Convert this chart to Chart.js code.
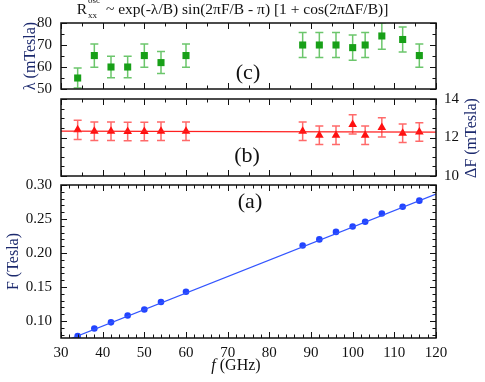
<!DOCTYPE html>
<html>
<head>
<meta charset="utf-8">
<script src="https://cdn.jsdelivr.net/npm/chart.js@4.4.0/dist/chart.umd.min.js"></script>
<style>
  html, body { margin: 0; padding: 0; background: #fff; }
  #wrap { position: relative; width: 485px; height: 382px; overflow: hidden; font-family: "Liberation Serif", "Times New Roman", Times, serif; }
  #wrap canvas { position: absolute; left: 0; top: 0; }
  #title { position: absolute; left: -10px; top: 0; width: 485px; text-align: center; font-size: 15.5px; line-height: 18px; color: #111; white-space: nowrap; }
  .ss { display: inline-block; position: relative; width: 15px; height: 10px; }
  .ss .sp { position: absolute; left: 1px; top: -8px; font-size: 9px; line-height: 9px; }
  .ss .sb { position: absolute; left: 1px; top: 7px; font-size: 9px; line-height: 9px; }
  #warm { position: absolute; left: -999px; top: 0; font-family: "Liberation Serif", serif; }
</style>
</head>
<body>
<div id="wrap">
  <canvas id="panel-c" width="485" height="382"></canvas>
  <canvas id="panel-b" width="485" height="382"></canvas>
  <canvas id="panel-a" width="485" height="382"></canvas>
  <div id="title">R<span class="ss"><span class="sp">osc</span><span class="sb">xx</span></span> ~ exp(-λ/B) sin(2πF/B - π) [1 + cos(2πΔF/B)]</div>
</div>
<span id="warm">0.30 <i>f</i></span>
<script>
// microwave frequencies (GHz)
const freq = [34, 38, 42, 46, 50, 54, 60, 88, 92, 96, 100, 103, 107, 112, 116];

// (c) damping parameter lambda (mTesla)
const lambda = [55, 65.2, 60, 60, 65.2, 62, 65.2, 70, 70, 70, 68.8, 70, 74.1, 72.5, 65.2];
const lambdaErr = [4.6, 5.3, 4.9, 4.9, 5.3, 5, 5.3, 5.7, 5.7, 5.7, 5.7, 5.7, 6, 5.7, 5.3];

// (b) beat splitting deltaF (mTesla)
const deltaF = [12.4, 12.33, 12.33, 12.31, 12.31, 12.33, 12.33, 12.33, 12.12, 12.12, 12.68, 12.12, 12.52, 12.22, 12.28];
const deltaFErr = [0.5, 0.48, 0.48, 0.48, 0.48, 0.48, 0.48, 0.48, 0.48, 0.48, 0.5, 0.48, 0.5, 0.48, 0.48];
const deltaFFitX = [30, 120];
const deltaFFit = [12.33, 12.28];

// (a) oscillation frequency F (Tesla)
const fieldF = [0.078, 0.089, 0.098, 0.108, 0.117, 0.128, 0.143, 0.211, 0.220, 0.231, 0.239, 0.246, 0.258, 0.268, 0.277];
const fieldFitX = [30, 120];
const fieldFit = [0.0683, 0.2867];

const SERIF = '"Liberation Serif", "Times New Roman", Times, serif';
const NAVY = '#1c2a6e';

const pts = (xs, ys) => xs.map((x, i) => ({ x: x, y: ys[i] }));

// vertical error bars with caps, drawn through the chart scales
const errorBars = {
    id: 'errorBars',
    beforeDatasetsDraw(chart) {
        const { ctx, chartArea: a } = chart;
        ctx.save();
        ctx.beginPath();
        ctx.rect(a.left, a.top, a.right - a.left, a.bottom - a.top);
        ctx.clip();
        chart.data.datasets.forEach((ds) => {
            if (!ds.errors) return;
            const xs = chart.scales[ds.xAxisID || 'x'];
            const ys = chart.scales[ds.yAxisID || 'y'];
            ctx.strokeStyle = ds.errorColor;
            ctx.lineWidth = 1.5;
            ds.data.forEach((p, i) => {
                const px = xs.getPixelForValue(p.x);
                const y0 = ys.getPixelForValue(p.y - ds.errors[i]);
                const y1 = ys.getPixelForValue(p.y + ds.errors[i]);
                ctx.beginPath();
                ctx.moveTo(px, y0); ctx.lineTo(px, y1);
                ctx.moveTo(px - 4, y0); ctx.lineTo(px + 4, y0);
                ctx.moveTo(px - 4, y1); ctx.lineTo(px + 4, y1);
                ctx.stroke();
            });
        });
        ctx.restore();
    }
};

// box frame with inward ticks on all four sides, plus free text labels
const frameTicks = {
    id: 'frameTicks',
    afterDraw(chart, args, opts) {
        const { ctx, chartArea: a, scales } = chart;
        const xs = scales.x, ys = scales[opts.yId || 'y'];
        ctx.save();
        ctx.strokeStyle = '#111';
        ctx.lineWidth = 1;
        const each = (min, max, step, fn) => {
            const start = Math.ceil(min / step - 1e-6);
            for (let i = start; i * step <= max + 1e-9; i++) fn(i * step);
        };
        const isMajor = (v, m) => Math.abs(v / m - Math.round(v / m)) < 1e-6;
        ctx.beginPath();
        each(xs.min, xs.max, opts.xMinor, (v) => {
            const px = Math.round(xs.getPixelForValue(v)) + 0.5;
            const len = isMajor(v, opts.xMajor) ? 6 : 3.5;
            ctx.moveTo(px, a.bottom); ctx.lineTo(px, a.bottom - len);
            ctx.moveTo(px, a.top); ctx.lineTo(px, a.top + len);
        });
        each(ys.min, ys.max, opts.yMinor, (v) => {
            const py = Math.round(ys.getPixelForValue(v)) + 0.5;
            const len = isMajor(v, opts.yMajor) ? 6 : 3.5;
            ctx.moveTo(a.left, py); ctx.lineTo(a.left + len, py);
            ctx.moveTo(a.right, py); ctx.lineTo(a.right - len, py);
        });
        ctx.stroke();
        ctx.lineWidth = 1.5;
        ctx.strokeRect(a.left, a.top, a.right - a.left, a.bottom - a.top);
        (opts.texts || []).forEach((t) => {
            ctx.save();
            ctx.fillStyle = t.color || '#111';
            ctx.textBaseline = 'middle';
            ctx.translate(t.x, t.y);
            if (t.rotate) ctx.rotate(t.rotate);
            const parts = t.parts || [{ text: t.text, font: t.font }];
            let w = 0;
            parts.forEach((p) => { ctx.font = p.font; w += ctx.measureText(p.text).width; });
            let cx = -w / 2;
            ctx.textAlign = 'left';
            parts.forEach((p) => {
                ctx.font = p.font;
                ctx.fillText(p.text, cx, 0);
                cx += ctx.measureText(p.text).width;
            });
            ctx.restore();
        });
        ctx.restore();
    }
};

function buildCharts() {
    Chart.defaults.font.family = SERIF;
    Chart.defaults.color = '#111';

    const base = (padding) => ({
        responsive: false,
        animation: false,
        devicePixelRatio: 1,
        layout: { padding: padding },
        plugins: { legend: { display: false }, tooltip: { enabled: false } }
    });

    const hiddenX = { type: 'linear', min: 30, max: 120, display: false };
    const noGrid = { display: false, drawTicks: false };
    const tickFont = { family: SERIF, size: 15 };
    const titleFont = { family: SERIF, size: 16 };

    // (c) lambda panel
    const optC = base({ top: 23, bottom: 293, left: 0, right: 49 });
    optC.scales = {
        x: hiddenX,
        y: {
            min: 50, max: 80,
            afterFit: (s) => { s.width = 61; },
            grid: noGrid, border: { display: false },
            ticks: { stepSize: 10, padding: 9, font: tickFont, color: '#111' },
            title: { display: true, text: 'λ (mTesla)', color: NAVY, font: titleFont, padding: { top: 21 } }
        }
    };
    optC.plugins.frameTicks = {
        xMajor: 10, xMinor: 5, yMajor: 10, yMinor: 5,
        texts: [{ text: '(c)', x: 248, y: 73, font: '22px ' + SERIF }]
    };
    new Chart('panel-c', {
        type: 'scatter',
        data: {
            datasets: [{
                data: pts(freq, lambda),
                errors: lambdaErr,
                errorColor: '#6cc66c',
                pointStyle: 'rect',
                pointRadius: 5,
                backgroundColor: '#18a018',
                borderColor: '#18a018',
                borderWidth: 0
            }]
        },
        options: optC,
        plugins: [errorBars, frameTicks]
    });

    // (b) deltaF panel
    const optB = base({ top: 99, bottom: 206, left: 61, right: 0 });
    optB.scales = {
        x: hiddenX,
        y: {
            position: 'right',
            min: 10, max: 14,
            afterFit: (s) => { s.width = 49; },
            grid: noGrid, border: { display: false },
            ticks: { stepSize: 2, padding: 8, font: tickFont, color: '#111' }
        }
    };
    optB.plugins.frameTicks = {
        xMajor: 10, xMinor: 5, yMajor: 2, yMinor: 0.5,
        texts: [
            { text: '(b)', x: 247, y: 156, font: '22px ' + SERIF },
            { text: 'ΔF (mTesla)', x: 472, y: 138, rotate: -Math.PI / 2, color: NAVY, font: '16px ' + SERIF }
        ]
    };
    new Chart('panel-b', {
        type: 'scatter',
        data: {
            datasets: [{
                type: 'line',
                data: pts(deltaFFitX, deltaFFit),
                borderColor: '#ff2020',
                borderWidth: 1.2,
                pointRadius: 0,
                fill: false
            }, {
                data: pts(freq, deltaF),
                errors: deltaFErr,
                errorColor: '#ff6a6a',
                pointStyle: 'triangle',
                pointRadius: 5,
                backgroundColor: '#ff1010',
                borderColor: '#ff1010',
                borderWidth: 0
            }]
        },
        options: optB,
        plugins: [errorBars, frameTicks]
    });

    // (a) F vs f panel
    const optA = base({ top: 185, bottom: 0, left: 0, right: 49 });
    optA.scales = {
        x: {
            type: 'linear', min: 30, max: 120,
            afterFit: (s) => { s.height = 44; },
            grid: noGrid, border: { display: false },
            ticks: { stepSize: 10, padding: 6, font: tickFont, color: '#111', maxRotation: 0 }
        },
        y: {
            min: 0.075, max: 0.30,
            afterFit: (s) => { s.width = 61; },
            grid: noGrid, border: { display: false },
            ticks: { stepSize: 0.05, includeBounds: false, padding: 9, font: tickFont, color: '#111',
                     callback: (v) => v.toFixed(2) },
            title: { display: true, text: 'F (Tesla)', color: NAVY, font: titleFont, padding: { top: 4 } }
        }
    };
    optA.plugins.frameTicks = {
        xMajor: 10, xMinor: 2, yMajor: 0.05, yMinor: 0.01,
        texts: [
            { text: '(a)', x: 250, y: 202, font: '22px ' + SERIF },
            { x: 236, y: 366, parts: [
                { text: 'f', font: 'italic 16px ' + SERIF },
                { text: ' (GHz)', font: '16px ' + SERIF }
            ] }
        ]
    };
    new Chart('panel-a', {
        type: 'scatter',
        data: {
            datasets: [{
                type: 'line',
                data: pts(fieldFitX, fieldFit),
                borderColor: '#3355ff',
                borderWidth: 1.2,
                pointRadius: 0,
                fill: false
            }, {
                data: pts(freq, fieldF),
                pointStyle: 'circle',
                pointRadius: 3.3,
                backgroundColor: '#2244ff',
                borderColor: '#2244ff',
                borderWidth: 0
            }]
        },
        options: optA,
        plugins: [frameTicks]
    });
}

Promise.all([
    document.fonts.load('15px "Liberation Serif"'),
    document.fonts.load('italic 16px "Liberation Serif"')
]).catch(() => {}).then(buildCharts);
</script>
</body>
</html>
